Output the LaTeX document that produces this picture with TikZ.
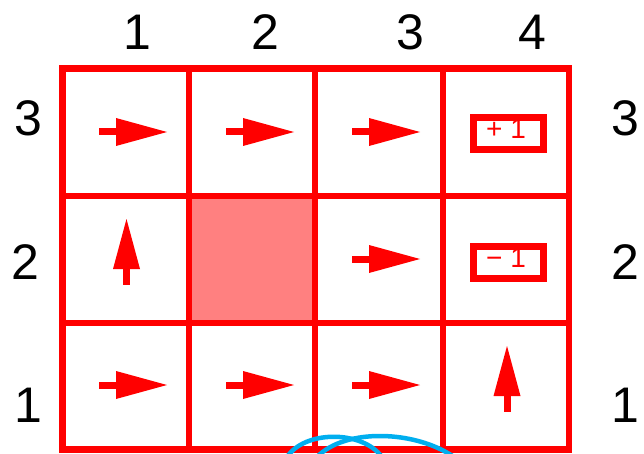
\documentclass[tikz,border=0pt]{standalone}
\usepackage{fontspec}
\setmainfont{Liberation Sans}
\definecolor{gridred}{HTML}{FF0000}
\definecolor{wallpink}{HTML}{FF8080}
\definecolor{loopblue}{HTML}{00AEEF}
\begin{document}
\begin{tikzpicture}[x=1pt,y=-1pt,
  gridline/.style={draw=gridred,line width=6.5pt},
  lbl/.style={inner sep=0pt,font=\fontsize{50}{52}\selectfont},
  boxtxt/.style={inner sep=0pt,text=gridred,font=\fontsize{28}{30}\selectfont},
  rewardbox/.style={draw=gridred,line width=7pt},
  loopline/.style={draw=loopblue,line width=4.5pt}]
\useasboundingbox (0,0) rectangle (644,454);
% shaded wall cell
\fill[wallpink] (189,196) rectangle (315,323);
% grid
\draw[gridline] (62.5,68.5) rectangle (569,449.5);
\draw[gridline] (189,68.5) -- (189,449.5);
\draw[gridline] (315,68.5) -- (315,449.5);
\draw[gridline] (443,68.5) -- (443,449.5);
\draw[gridline] (62.5,196) -- (569,196);
\draw[gridline] (62.5,323) -- (569,323);
% right arrows
\foreach \cx/\cy in {133/132, 260/132, 386/132, 386/259, 133/385, 260/385, 386/385}{
  \fill[gridred] (\cx-34,\cy-3.5) rectangle (\cx-16,\cy+3.5);
  \fill[gridred] (\cx-17,\cy-14) -- (\cx+34,\cy) -- (\cx-17,\cy+14) -- cycle;
}
% up arrows
\foreach \cx/\cy in {126.5/252, 507/379}{
  \fill[gridred] (\cx-3.5,\cy+33) rectangle (\cx+3.5,\cy+15);
  \fill[gridred] (\cx-13.5,\cy+17) -- (\cx,\cy-33) -- (\cx+13.5,\cy+17) -- cycle;
}
% reward boxes
\draw[rewardbox] (473.5,117.5) rectangle (543.5,149.5);
\node[boxtxt] (plus) at (506,129) {+ 1};
\draw[rewardbox] (473.5,246.5) rectangle (543.5,278.5);
\node[boxtxt] (minus) at (506,258) {− 1};
% labels
\node[lbl] (c1) at (137,32) {1};
\node[lbl] (c2) at (265,32) {2};
\node[lbl] (c3) at (410,32) {3};
\node[lbl] (c4) at (532,32) {4};
\node[lbl] (l3) at (28,118) {3};
\node[lbl] (l2) at (25,262) {2};
\node[lbl] (l1) at (28,405) {1};
\node[lbl] (r3) at (625,118) {3};
\node[lbl] (r2) at (625,262) {2};
\node[lbl] (r1) at (625,405) {1};
% blue loops
\draw[loopline] (287,457) .. controls (305,430) and (362,430) .. (382,457);
\draw[loopline] (317,457) .. controls (345,428) and (415,430) .. (454,457);
\end{tikzpicture}
\end{document}
